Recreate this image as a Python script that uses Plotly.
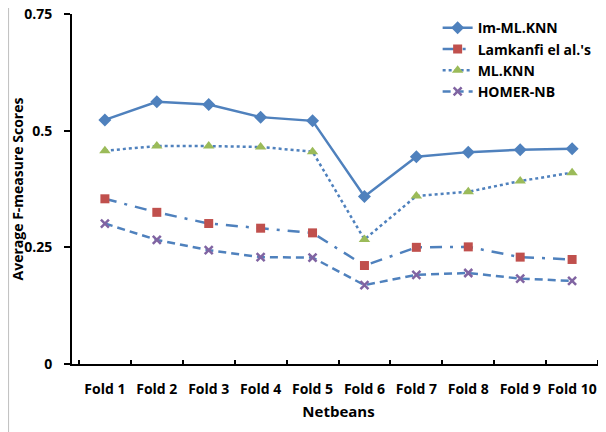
import plotly.graph_objects as go

folds = ["Fold 1", "Fold 2", "Fold 3", "Fold 4", "Fold 5",
         "Fold 6", "Fold 7", "Fold 8", "Fold 9", "Fold 10"]

im_ml_knn = [0.523, 0.562, 0.556, 0.529, 0.521, 0.359, 0.444, 0.454, 0.459, 0.461]
lamkanfi = [0.354, 0.325, 0.301, 0.291, 0.281, 0.211, 0.250, 0.251, 0.229, 0.224]
ml_knn = [0.457, 0.467, 0.467, 0.465, 0.455, 0.267, 0.360, 0.369, 0.392, 0.410]
homer_nb = [0.301, 0.266, 0.244, 0.229, 0.228, 0.169, 0.191, 0.195, 0.183, 0.178]

y_ticks = [0, 0.25, 0.5, 0.75]
y_ticklabels = ["0", "0.25", "0.5", "0.75"]

line_blue = "#4F81BD"
font_name = "Open Sans"

fig = go.Figure()

fig.add_trace(go.Scatter(
    x=folds, y=im_ml_knn, name="Im-ML.KNN", mode="lines+markers",
    line=dict(color=line_blue, width=2.5),
    marker=dict(symbol="diamond", size=10, color=line_blue),
))
fig.add_trace(go.Scatter(
    x=folds, y=lamkanfi, name="Lamkanfi el al.'s", mode="lines+markers",
    line=dict(color=line_blue, width=2.5, dash="12px,8px,3px,8px"),
    marker=dict(symbol="square", size=9, color="#C0504D"),
))
fig.add_trace(go.Scatter(
    x=folds, y=ml_knn, name="ML.KNN", mode="lines+markers",
    line=dict(color=line_blue, width=2.5, dash="dot"),
    marker=dict(symbol="triangle-up", size=10, color="#9BBB59"),
))
fig.add_trace(go.Scatter(
    x=folds, y=homer_nb, name="HOMER-NB", mode="lines+markers",
    line=dict(color=line_blue, width=2.5, dash="8px,5px"),
    marker=dict(symbol="x-thin", size=8, line=dict(color="#8064A2", width=2.5), color="#8064A2"),
))

# page body has an 8px margin, so the figure is a bit smaller than the window
fig.update_layout(
    width=598, height=424,
    paper_bgcolor="white", plot_bgcolor="white",
    margin=dict(l=64, r=1, t=6, b=68, pad=0, autoexpand=False),
    font=dict(family=font_name, size=14, color="black"),
    legend=dict(
        x=0.686, y=1.005, xanchor="left", yanchor="top",
        bgcolor="rgba(0,0,0,0)", font=dict(size=14, color="black", weight="bold"),
        tracegroupgap=0, itemwidth=30,
    ),
)
fig.update_xaxes(
    type="category", showgrid=False, showline=True, linecolor="black", linewidth=2,
    ticks="inside", ticklen=4, tickwidth=1.5, tickcolor="black", tickson="boundaries",
    tickangle=0, automargin=False, ticklabelstandoff=11, ticklabeloverflow="allow",
    tickfont=dict(size=14, weight="bold"),
    title=dict(text="Netbeans", font=dict(size=15, weight="bold"), standoff=10),
)
fig.update_yaxes(
    range=[0, 0.75], tickvals=y_ticks, ticktext=y_ticklabels, automargin=False,
    showgrid=False, zeroline=False, showline=True, linecolor="black", linewidth=2,
    ticks="outside", ticklen=6, tickwidth=1.5, tickcolor="black",
    ticklabelstandoff=9, ticklabeloverflow="allow",
    tickfont=dict(size=14, weight="bold"),
    title=dict(text="Average F-measure Scores", font=dict(size=14, weight="bold"), standoff=5),
)
# chart border on the left edge
fig.add_shape(type="line", xref="paper", yref="paper", x0=-0.119, x1=-0.119, y0=-0.2, y1=1.05,
              line=dict(color="#BFBFBF", width=1))

fig.write_html("out.html")
